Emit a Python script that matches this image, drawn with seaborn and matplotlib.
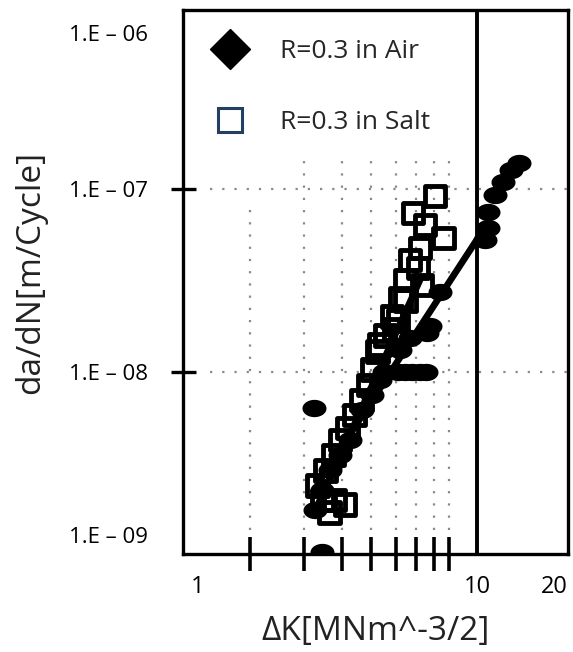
import matplotlib
matplotlib.use("Agg")
from matplotlib import pyplot as plt
from matplotlib.lines import Line2D
from matplotlib.ticker import NullFormatter, NullLocator
import numpy as np
import seaborn as sns

# crack growth rate da/dN [m/cycle] vs dK
air_dk = [15.29, 14.38, 13.54, 12.74, 12.09, 12.09, 11.81,
          8.40, 7.79, 7.61, 7.55, 7.22, 6.80, 6.45, 6.11, 5.50,
          6.21, 6.69, 5.33, 5.02, 4.65, 4.25, 3.94, 3.65, 3.44, 3.26,
          3.24, 3.44]
air_dadn = [1.39e-7, 1.27e-7, 1.09e-7, 9.27e-8, 7.48e-8, 6.12e-8, 5.26e-8,
            2.73e-8, 1.78e-8, 1.63e-8, 1.0e-8, 1.0e-8, 1.0e-8, 1.0e-8, 1.0e-8, 1.0e-8,
            1.32e-8, 1.53e-8, 9.04e-9, 7.48e-9, 6.20e-9, 4.25e-9, 3.52e-9, 2.91e-9, 2.27e-9, 1.76e-9,
            6.36e-9, 1.04e-9]

salt_dk = [8.09, 6.85, 8.60, 7.50, 7.22, 7.11, 7.33, 6.69, 6.45, 6.45, 6.21, 6.11, 5.84, 5.97,
           5.54, 5.33, 5.25, 5.02, 4.87, 4.65, 4.41, 4.18, 3.94, 3.74, 3.52,
           3.33, 3.44, 3.79, 3.65, 4.09]
salt_dadn = [9.16e-8, 7.39e-8, 5.40e-8, 6.36e-8, 4.76e-8, 3.70e-8, 2.99e-8, 4.09e-8, 3.18e-8, 2.47e-8,
             2.54e-8, 1.92e-8, 2.02e-8, 1.70e-8,
             1.59e-8, 1.41e-8, 1.29e-8, 1.03e-8, 8.49e-9, 7.03e-9, 5.82e-9, 4.94e-9, 4.25e-9, 3.52e-9, 2.91e-9,
             2.41e-9, 2.00e-9, 2.00e-9, 1.70e-9, 1.88e-9]

# fitted trend lines (end points)
air_fit_dk = [3.39, 11.37]
air_fit_dadn = [2.57e-9, 5.61e-8]
salt_fit_dk = [3.33, 7.22]
salt_fit_dadn = [1.88e-9, 3.18e-8]

x_minor = [2, 3, 4, 5, 6, 7, 8, 9]
x_tick_pos = [1.34, 11.12, 20]
x_tick_labels = ['1', '10', '20']
y_tick_pos = [7.11e-7, 1e-7, 1e-8, 1.285e-9]
y_tick_labels = ['1.E – 06', '1.E – 07', '1.E – 08', '1.E – 09']
k_line = 11.12

sns.set_style("white")
plt.rcParams['font.family'] = ['Open Sans', 'DejaVu Sans']

fig = plt.figure(figsize=(5.73, 6.52), dpi=100)
ax = fig.add_axes([0.3194, 0.1503, 0.6719, 0.8344])
ax.set_xscale('log')
ax.set_yscale('log')

# partial dotted grid like the original
grid_top = [8.7e-8] + [1.57e-7] * 7
ax.vlines(x_minor, 1.37e-9, grid_top, colors='#8a8a8a', linestyles=(0, (1, 4.5)), lw=1.6, zorder=1)
ax.hlines([1e-7, 1e-8], 1.47, 22.15, colors='#8a8a8a', linestyles=(0, (1, 4.5)), lw=1.6, zorder=1)

t = np.linspace(0, 2 * np.pi, 40)
ellipse = np.column_stack([np.cos(t), 0.72 * np.sin(t)])

sns.scatterplot(x=salt_dk, y=salt_dadn, marker='s', s=225, color='black', facecolor='none',
                edgecolor='black', linewidth=3.5, ax=ax, zorder=3)
sns.scatterplot(x=air_dk, y=air_dadn, marker=ellipse, s=300, color='black', edgecolor='black',
                linewidth=0, ax=ax, zorder=3)
sns.lineplot(x=air_fit_dk, y=air_fit_dadn, color='black', lw=4.8, sort=False, ax=ax, zorder=4)
sns.lineplot(x=salt_fit_dk, y=salt_fit_dadn, color='black', lw=4.8, sort=False, ax=ax, zorder=4)

ax.axvline(k_line, color='black', lw=2.8, zorder=5)

ax.set_xlim(1.20, 22.15)
ax.set_ylim(1.013e-9, 9.51e-7)

ax.set_xticks(x_tick_pos, x_tick_labels)
ax.set_xticks(x_minor, minor=True)
ax.xaxis.set_minor_formatter(NullFormatter())
ax.tick_params(axis='x', which='major', bottom=True, length=0, labelsize=17, pad=15, colors='black')
ax.tick_params(axis='x', which='minor', bottom=True, direction='inout', length=25, width=2.6,
               color='black')

ax.set_yticks(y_tick_pos, y_tick_labels)
ax.yaxis.set_minor_locator(NullLocator())
ax.tick_params(axis='y', which='major', left=True, direction='inout', length=18, width=2.4,
               labelsize=16, pad=16, colors='black')
yt = ax.yaxis.get_major_ticks()
yt[0].tick1line.set_visible(False)
yt[3].tick1line.set_visible(False)

for s in ax.spines.values():
    s.set_color('black')
    s.set_linewidth(2.4)

ax.set_xlabel('ΔK[MNm^-3/2]', fontsize=24, color='#222222')
ax.set_ylabel('da/dN[m/Cycle]', fontsize=24, color='#222222')
ax.xaxis.set_label_coords(0.499, -0.112)
ax.yaxis.set_label_coords(-0.353, 0.518)

handles = [Line2D([], [], marker='D', color='black', linestyle='none', markersize=20),
           Line2D([], [], marker='s', markerfacecolor='white', markeredgecolor='#243f60',
                  markeredgewidth=2.2, linestyle='none', markersize=17)]
ax.legend(handles, ['R=0.3 in Air', 'R=0.3 in Salt'], loc='upper left', bbox_to_anchor=(0.005, 0.99),
          frameon=False, fontsize=19, labelspacing=1.75, handletextpad=1.1, handlelength=1.6)

fig.savefig('out.png', dpi=100)
